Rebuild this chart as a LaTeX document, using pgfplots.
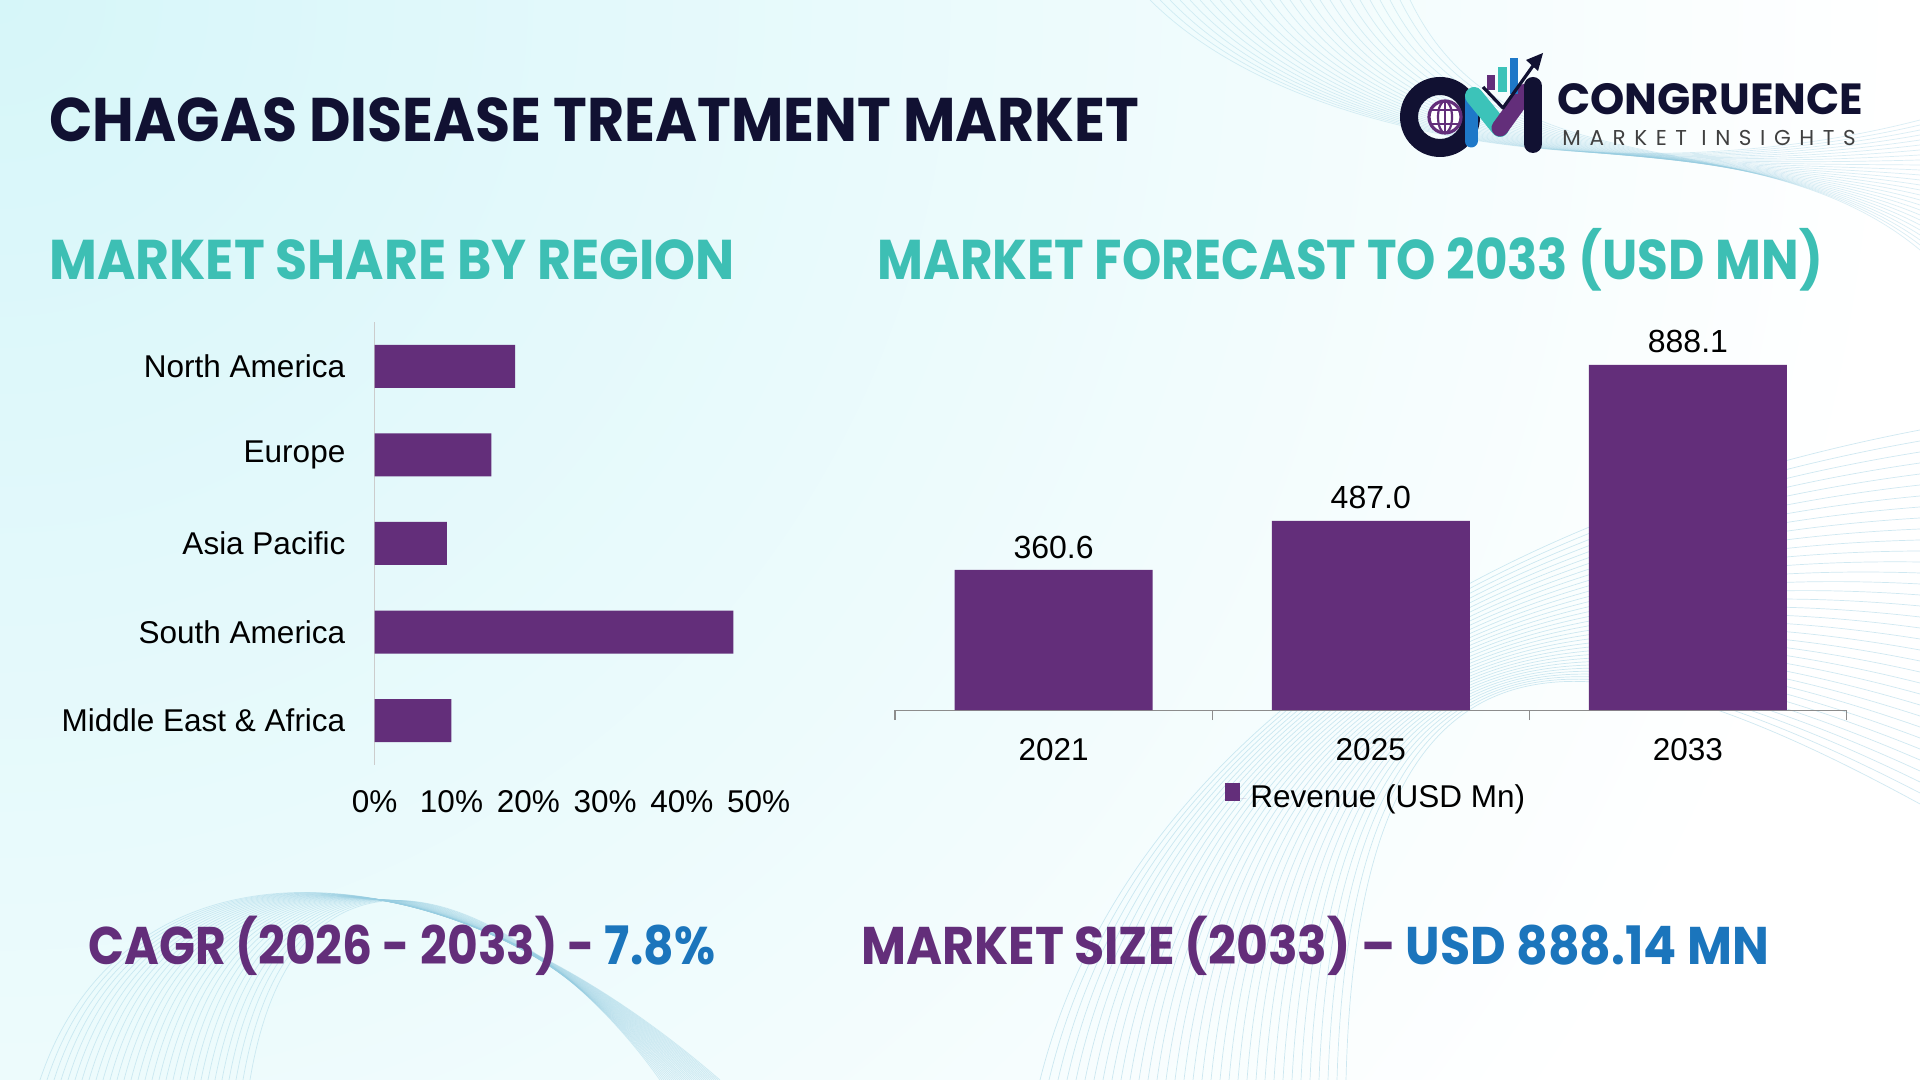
\documentclass[border=0pt]{standalone}
\usepackage{pgfplots}
\pgfplotsset{compat=1.18}
\usepackage{fontspec}
\setmainfont{Liberation Sans}
\newfontfamily\headfont{Poppins}
\newfontfamily\logosub[LetterSpace=40]{Poppins}

\definecolor{barpurple}{RGB}{99,46,122}
\definecolor{navy}{RGB}{17,17,50}
\definecolor{headteal}{RGB}{61,191,180}
\definecolor{accblue}{RGB}{27,117,188}
\definecolor{bgcyan}{RGB}{214,246,249}
\definecolor{wave}{RGB}{150,205,225}
\definecolor{logoblue}{RGB}{30,120,200}
\definecolor{logoteal}{RGB}{60,195,185}

\begin{document}
\begin{tikzpicture}
\useasboundingbox (0,0) rectangle (960pt,540pt);

% page layout in pixel units, origin at the top-left corner
\begin{scope}[yshift=540pt, x=0.5pt, y=-0.5pt]
\fill[white] (0,0) rectangle (1920,1080);
\begin{scope}
\clip (0,0) rectangle (1920,1080);
\shade[inner color=bgcyan, outer color=white] (0,0) circle (1900);
\foreach \i in {0,...,34} {
  \draw[wave, line width=0.35pt, opacity=0.45]
    (1040+\i*9,1080) .. controls (1120+\i*7,760-\i*5) and (1450+\i*4,520+\i*3) .. (1920,430+\i*11);
}
\foreach \i in {0,...,30} {
  \draw[wave, line width=0.35pt, opacity=0.4]
    (40+\i*7,1080) .. controls (120+\i*6,840-\i*2) and (420+\i*4,820+\i*3) .. (720-\i*2,1080);
}
\foreach \i in {0,...,26} {
  \draw[wave, line width=0.35pt, opacity=0.35]
    (1150+\i*10,0) .. controls (1300+\i*8,150+\i*2) and (1650+\i*4,190-\i*3) .. (1920,120+\i*5);
}
\end{scope}

% headings
\node[anchor=base west, inner sep=0pt, text=navy] at (49,142)
  {\scalebox{0.926}[1]{\headfont\bfseries\fontsize{30.8}{34}\selectfont CHAGAS DISEASE TREATMENT MARKET}};
\node[anchor=base west, inner sep=0pt, text=headteal] at (49,280)
  {\scalebox{0.93}[1]{\headfont\bfseries\fontsize{28}{32}\selectfont MARKET SHARE BY REGION}};
\node[anchor=base west, inner sep=0pt, text=headteal] at (877,280)
  {\scalebox{0.893}[1]{\headfont\bfseries\fontsize{28}{32}\selectfont MARKET FORECAST TO 2033 (USD MN)}};
\node[anchor=base west, inner sep=0pt] at (88,965)
  {\scalebox{0.89}[1]{\headfont\bfseries\fontsize{26.5}{30}\selectfont\textcolor{barpurple}{CAGR (2026 - 2033) - }\textcolor{accblue}{7.8\%}}};
\node[anchor=base west, inner sep=0pt] at (861,965)
  {\scalebox{0.924}[1]{\headfont\bfseries\fontsize{26.5}{30}\selectfont\textcolor{barpurple}{MARKET SIZE (2033) – }\textcolor{accblue}{USD 888.14 MN}}};

% logo
\fill[navy, even odd rule] (1440,117) circle (40) (1440,117) circle (22);
\fill[white] (1445,117) circle (17);
\begin{scope}
  \clip (1445,117) circle (16);
  \draw[barpurple, line width=1.1pt] (1428,110) -- (1462,110) (1428,124) -- (1462,124) (1445,100) -- (1445,134);
  \draw[barpurple, line width=1.1pt] (1445,117) ellipse (7 and 16);
\end{scope}
\draw[barpurple, line width=1.6pt] (1445,117) circle (16);
\draw[logoblue, line width=6.5pt, line cap=round] (1471,97) -- (1471,141);
\draw[logoteal, line width=9pt, line cap=round] (1474,96) -- (1500,128);
\draw[barpurple, line width=8.5pt, line cap=round] (1500,128) -- (1526,92);
\draw[navy, line width=9pt, line cap=round] (1533,86) -- (1533,144);
\fill[barpurple] (1487,75) rectangle (1495,90);
\fill[logoteal] (1498,67) rectangle (1507,92);
\fill[logoblue] (1510,58) rectangle (1518,94);
\draw[navy, line width=1.6pt, line join=round] (1483,87) -- (1503,108) -- (1535,63);
\fill[navy] (1543,53) -- (1526,60) -- (1538,71) -- cycle;
\node[anchor=base west, inner sep=0pt, text=navy] at (1557,114.5)
  {\headfont\bfseries\fontsize{21.8}{24}\selectfont CONGRUENCE};
\node[anchor=base west, inner sep=0pt, text=black!75] at (1562,146)
  {\logosub\fontsize{10.75}{12}\selectfont MARKET INSIGHTS};
\end{scope}

% regional share
\begin{axis}[
  at={(187.35pt,157.5pt)}, anchor=south west,
  width=192pt, height=221.5pt, scale only axis,
  xbar, bar width=21.5pt,
  xmin=0, xmax=50, ymin=-0.5, ymax=4.5,
  axis lines*=left,
  x axis line style={draw=none},
  y axis line style={draw=black!20, line width=0.6pt},
  major tick length=0pt,
  xtick={0,10,20,30,40,50},
  xticklabels={0\%,10\%,20\%,30\%,40\%,50\%},
  ytick={0,1,2,3,4},
  yticklabels={Middle East \& Africa,South America,Asia Pacific,Europe,North America},
  tick label style={font=\fontsize{15.75}{18}\selectfont, text=black},
  yticklabel style={anchor=east, inner sep=0pt, xshift=-14.5pt},
  xticklabel style={anchor=center, inner sep=0pt, yshift=-18.5pt},
]
\addplot[fill=barpurple, draw=none] coordinates {(10.0,0) (46.7,1) (9.4,2) (15.2,3) (18.3,4)};
\end{axis}

% revenue forecast
\begin{axis}[
  at={(447.5pt,184.9pt)}, anchor=south west,
  width=475.75pt, height=194.4pt, scale only axis,
  ybar, bar width=99pt,
  xmin=-0.5, xmax=2.5, ymin=0, ymax=1000,
  axis x line*=bottom, axis y line=none,
  x axis line style={draw=black!45, line width=0.6pt},
  major tick length=0pt,
  xtick={0,1,2}, xticklabels={2021,2025,2033},
  extra x ticks={-0.5,0.5,1.5,2.5}, extra x tick labels={},
  extra x tick style={major tick length=5pt, tick align=outside,
    tick style={draw=black!45, line width=0.6pt}},
  tick label style={font=\fontsize{15.75}{18}\selectfont, text=black},
  xticklabel style={anchor=center, inner sep=0pt, yshift=-19.6pt},
  point meta=y,
  nodes near coords={\pgfmathprintnumber[fixed,fixed zerofill,precision=1,assume math mode=true]{\pgfplotspointmeta}},
  nodes near coords style={font=\fontsize{16}{18}\selectfont, text=black, anchor=center, inner sep=0pt, yshift=11.5pt},
  legend style={at={(0.3468,-0.226)}, anchor=west, draw=none, fill=none, inner sep=0pt,
    font=\fontsize{15.75}{18}\selectfont, text=black},
  legend image code/.code={\fill[barpurple] (0pt,-1.5pt) rectangle (7.5pt,7.5pt);
    \path (0pt,0pt) -- (10.5pt,0pt);},
]
\addplot[fill=barpurple, draw=none] coordinates {(0,360.6) (1,487.0) (2,888.1)};
\addlegendentry{Revenue (USD Mn)}
\end{axis}
\end{tikzpicture}
\end{document}
